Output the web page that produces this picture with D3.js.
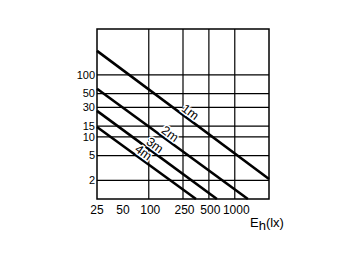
<!DOCTYPE html>
<html><head><meta charset="utf-8">
<script src="https://cdn.jsdelivr.net/npm/d3@7"></script>
<style>body{margin:0;background:#fff}svg{display:block}text{font-family:"Liberation Sans",Arial,sans-serif;fill:#000}</style>
</head><body><svg id="c" width="360" height="262"></svg>
<script>
const xTicks = [25, 50, 100, 250, 500, 1000];
const xGrid = [100, 250, 500, 1000];
const yTicks = [100, 50, 30, 15, 10, 5, 2];
const seriesNames = ["1m", "2m", "3m", "4m"];
const startE = [25, 25, 25, 25];
const startV = [244, 60, 26.3, 14.5];
const endE = [2500, 1420, 620, 354];
const endV = [2.1, 1, 1, 1];
const labelE = [273, 159, 106, 78];

const svg = d3.select("#c");
const x = d3.scaleLog().domain([25, 2500]).range([97, 269]);
const y = d3.scaleLog().domain([1, 550]).range([199, 29]);

svg.append("g").selectAll("line").data(xGrid).join("line")
  .attr("x1", d => x(d)).attr("x2", d => x(d)).attr("y1", y(550)).attr("y2", y(1))
  .attr("stroke", "#000").attr("stroke-width", 1.2);
svg.append("g").selectAll("line").data(yTicks).join("line")
  .attr("x1", x(25)).attr("x2", x(2500)).attr("y1", d => y(d)).attr("y2", d => y(d))
  .attr("stroke", "#000").attr("stroke-width", 1.2);

const line = d3.line().x(d => x(d[0])).y(d => y(d[1]));
const series = seriesNames.map((n, i) => ({name: n, pts: [[startE[i], startV[i]], [endE[i], endV[i]]]}));
svg.append("g").selectAll("path").data(series).join("path")
  .attr("d", d => line(d.pts)).attr("fill", "none").attr("stroke", "#000").attr("stroke-width", 2.6);

series.forEach((s, i) => {
  const [p0, p1] = s.pts;
  const ang = Math.atan2(y(p1[1]) - y(p0[1]), x(p1[0]) - x(p0[0])) * 180 / Math.PI;
  const t = (Math.log(labelE[i]) - Math.log(p0[0])) / (Math.log(p1[0]) - Math.log(p0[0]));
  const lx = x(p0[0]) + t * (x(p1[0]) - x(p0[0]));
  const ly = y(p0[1]) + t * (y(p1[1]) - y(p0[1]));
  svg.append("text").attr("transform", `translate(${lx},${ly}) rotate(${ang})`)
    .attr("text-anchor", "middle").attr("dy", -2.5).attr("font-size", 12.5)
    .attr("stroke", "#fff").attr("stroke-width", 3).attr("paint-order", "stroke")
    .style("fill", "#000").text(s.name);
});

svg.append("rect").attr("x", x(25)).attr("y", y(550)).attr("width", x(2500) - x(25)).attr("height", y(1) - y(550))
  .attr("fill", "none").attr("stroke", "#000").attr("stroke-width", 1.5);

svg.append("g").selectAll("text").data(xTicks).join("text")
  .attr("x", d => x(d) + (d >= 100 ? 1.5 : 0)).attr("y", 213.5).attr("text-anchor", "middle")
  .attr("font-size", 12).text(d => d);
svg.append("g").selectAll("text").data(yTicks).join("text")
  .attr("x", 95).attr("y", d => y(d)).attr("dy", "0.35em").attr("text-anchor", "end")
  .attr("font-size", 11).text(d => d);

const tt = svg.append("text").attr("x", 250).attr("y", 227).attr("font-size", 13);
tt.append("tspan").text("E");
tt.append("tspan").attr("dy", 3).text("h");
tt.append("tspan").attr("dy", -3).text("(lx)");
</script></body></html>
